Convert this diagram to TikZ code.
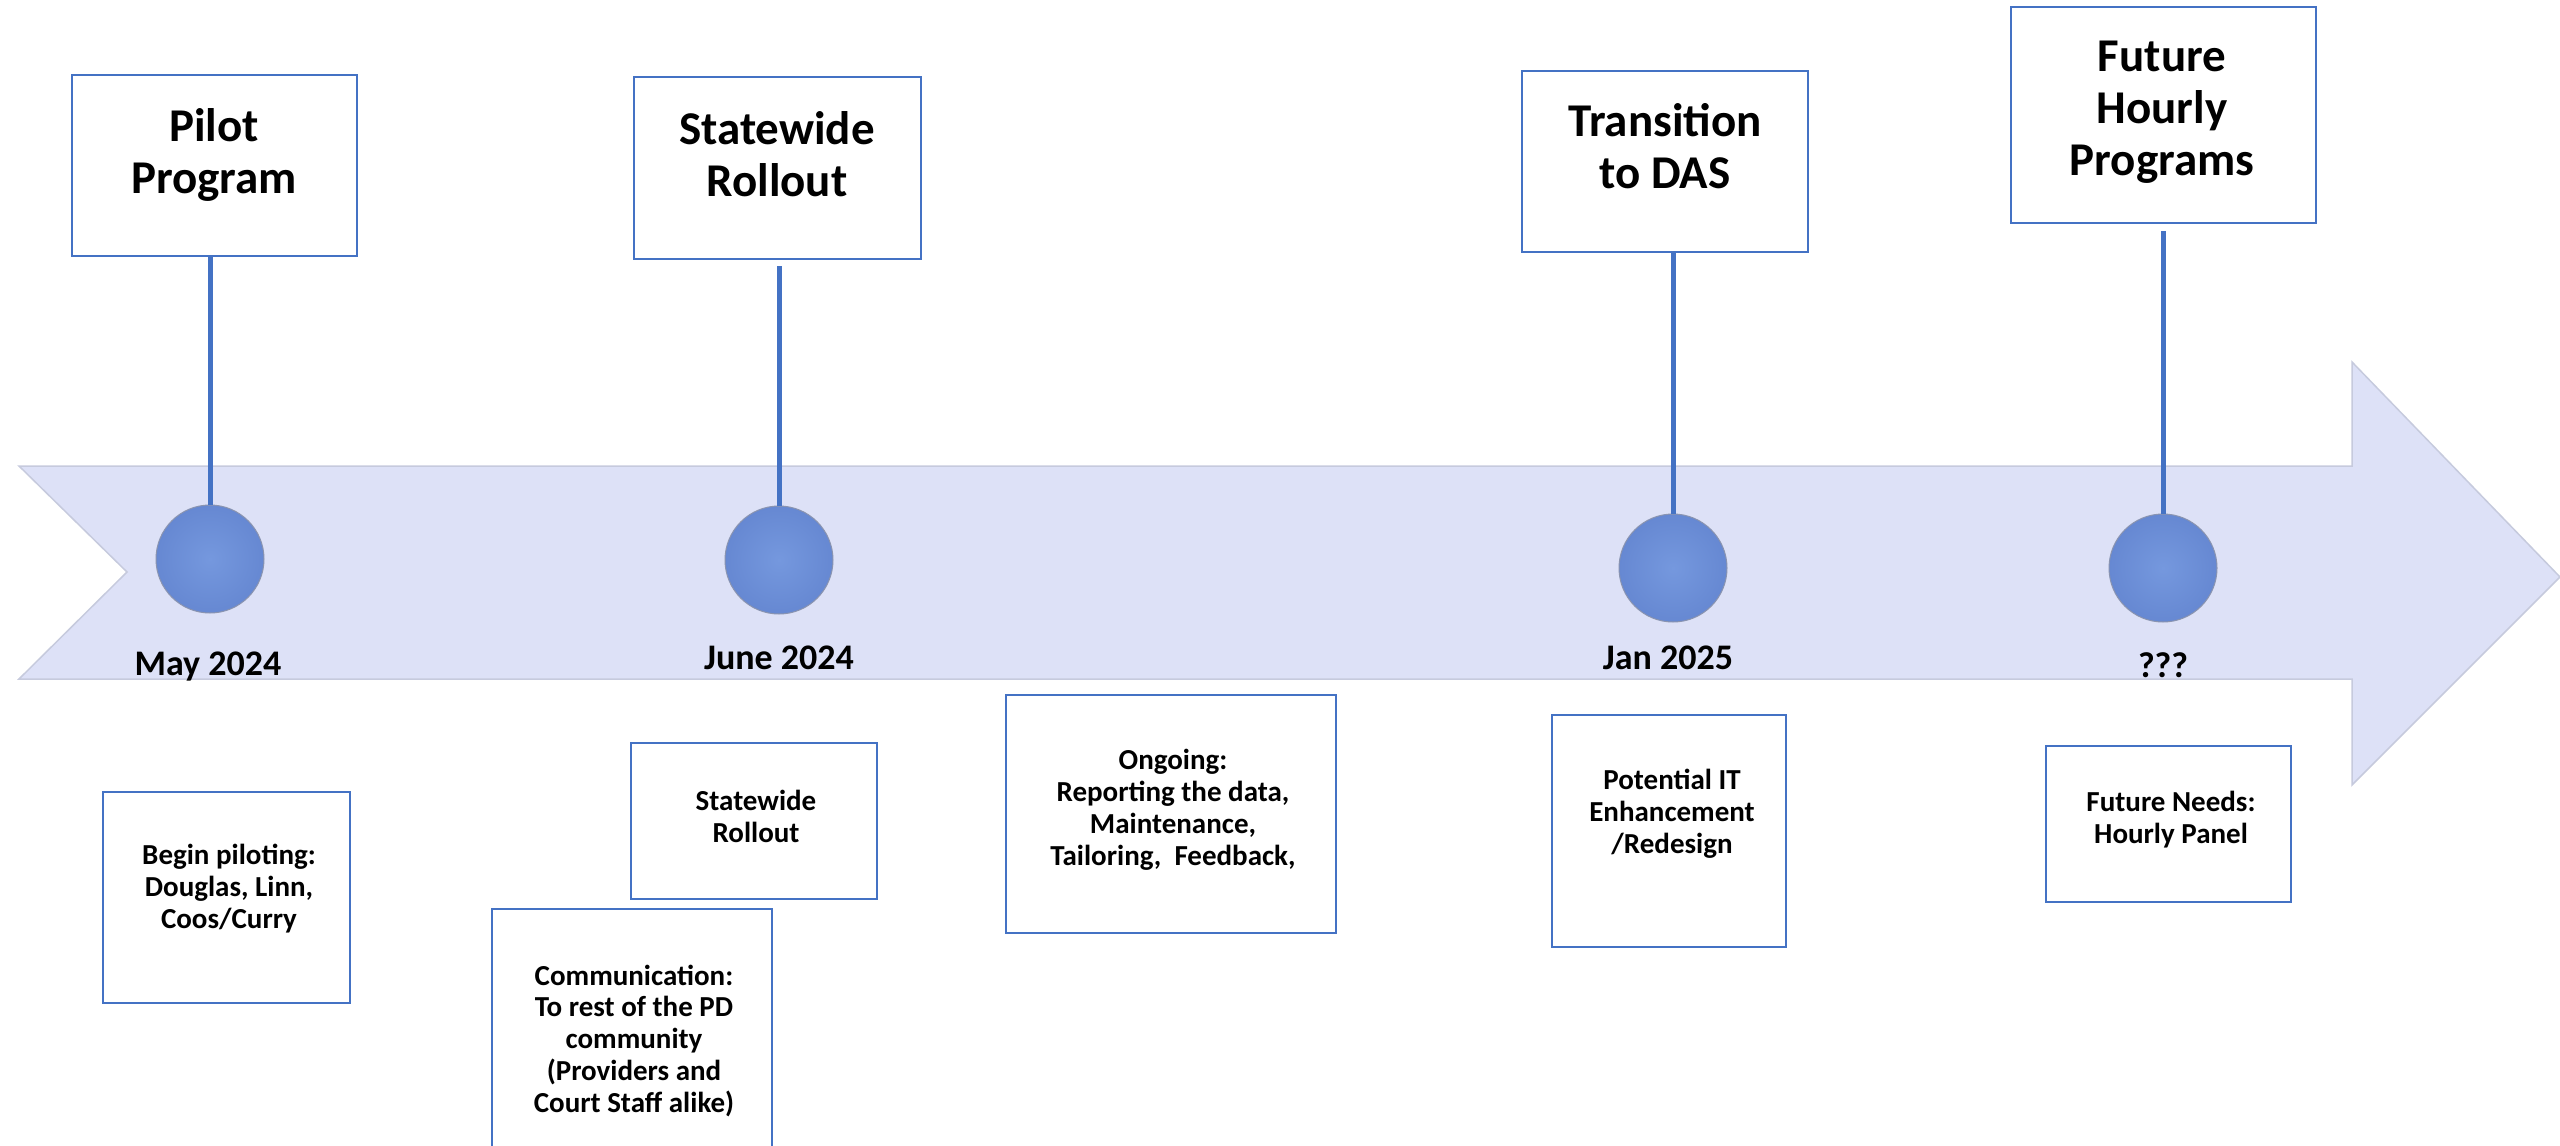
\documentclass[tikz,border=0pt]{standalone}
\usepackage{fontspec}
\setmainfont{Carlito}
\usetikzlibrary{fit}
\definecolor{tlblue}{HTML}{4472C4}
\definecolor{band}{HTML}{DDE1F7}
\definecolor{bandedge}{HTML}{C6CADD}
\definecolor{dotin}{HTML}{7598DE}
\definecolor{dotout}{HTML}{6688D2}
\definecolor{dotrim}{HTML}{8A94B0}
\begin{document}
\begin{tikzpicture}[x=1pt, y=-1pt,
  box/.style={draw=tlblue, line width=2.5pt, fill=white, inner sep=0pt},
  % multi-line labels are placed by the baseline of their last line
  big/.style={font=\fontsize{47}{52}\selectfont\bfseries, align=center, anchor=base, inner sep=0pt},
  small/.style={font=\fontsize{29}{31.7}\selectfont\bfseries, align=center, anchor=base, inner sep=0pt},
  datelbl/.style={font=\fontsize{36}{40}\selectfont\bfseries, anchor=base, inner sep=0pt},
  dot/.style={circle, minimum size=108pt, inner sep=0pt, shading=radial,
    inner color=dotin, outer color=dotout, draw=dotrim, line width=1pt},
  stem/.style={draw=tlblue, line width=5pt}]
\useasboundingbox (0,0) rectangle (2560,1146);

% timeline band with notched tail and arrow head
\fill[band, draw=bandedge, line width=1.5pt]
  (19,466) -- (2352,466) -- (2352,362) -- (2560,577) -- (2352,785)
  -- (2352,679) -- (19,679) -- (127,572) -- cycle;

% milestone markers
\node[dot] (c1) at (210,559) {};
\node[dot] (c2) at (779,560) {};
\node[dot] (c3) at (1673,568) {};
\node[dot] (c4) at (2163,568) {};

% milestone title boxes
\node[box, fit={(72,75) (357,256)}] (pilotbox) {};
\node[box, fit={(634,77) (921,259)}] (rolloutbox) {};
\node[box, fit={(1522,71) (1808,252)}] (dasbox) {};
\node[box, fit={(2011,7) (2316,223)}] (futurebox) {};

\node[big] (pilottxt) at (214,193) {Pilot\\Program};
\node[big] (rollouttxt) at (777,196) {Statewide\\Rollout};
\node[big] (dastxt) at (1665,188) {Transition\\to DAS};
\node[big] (futuretxt) at (2162,175) {Future\\Hourly\\Programs};

% stems from title boxes down to markers
\draw[stem] (c1.north |- pilotbox.south) -- (c1.north);
\draw[stem, shorten <=6pt] (c2.north |- rolloutbox.south) -- (c2.north);
\draw[stem] (c3.north |- dasbox.south) -- (c3.north);
\draw[stem, shorten <=7pt] (c4.north |- futurebox.south) -- (c4.north);

% dates on the band
\node[datelbl] (d1) at (208,675) {May 2024};
\node[datelbl] (d2) at (779,669) {June 2024};
\node[datelbl] (d3) at (1668,669) {Jan 2025};
\node[datelbl] (d4) at (2163,677) {???};

% detail boxes below the band
\node[box, fit={(103,792) (350,1003)}] (pilotnote) {};
\node[box, fit={(631,743) (877,899)}] (rolloutnote) {};
\node[box, fit={(492,909) (772,1160)}] (commnote) {};
\node[box, fit={(1006,695) (1336,933)}] (ongoingnote) {};
\node[box, fit={(1552,715) (1786,947)}] (itnote) {};
\node[box, fit={(2046,746) (2291,902)}] (needsnote) {};

\node[small] (pilotnotetxt) at (229,928) {Begin piloting:\\Douglas, Linn,\\Coos/Curry};
\node[small] (rolloutnotetxt) at (756,842) {Statewide\\Rollout};
\node[small] (commnotetxt) at (634,1112) {Communication:\\To rest of the PD\\community\\(Providers and\\Court Staff alike)};
\node[small] (ongoingnotetxt) at (1173,865) {Ongoing:\\Reporting the data,\\Maintenance,\\Tailoring,\ \ Feedback,};
\node[small] (itnotetxt) at (1672,853) {Potential IT\\Enhancement\\/Redesign};
\node[small] (needsnotetxt) at (2171,843) {Future Needs:\\Hourly Panel};
\end{tikzpicture}
\end{document}
